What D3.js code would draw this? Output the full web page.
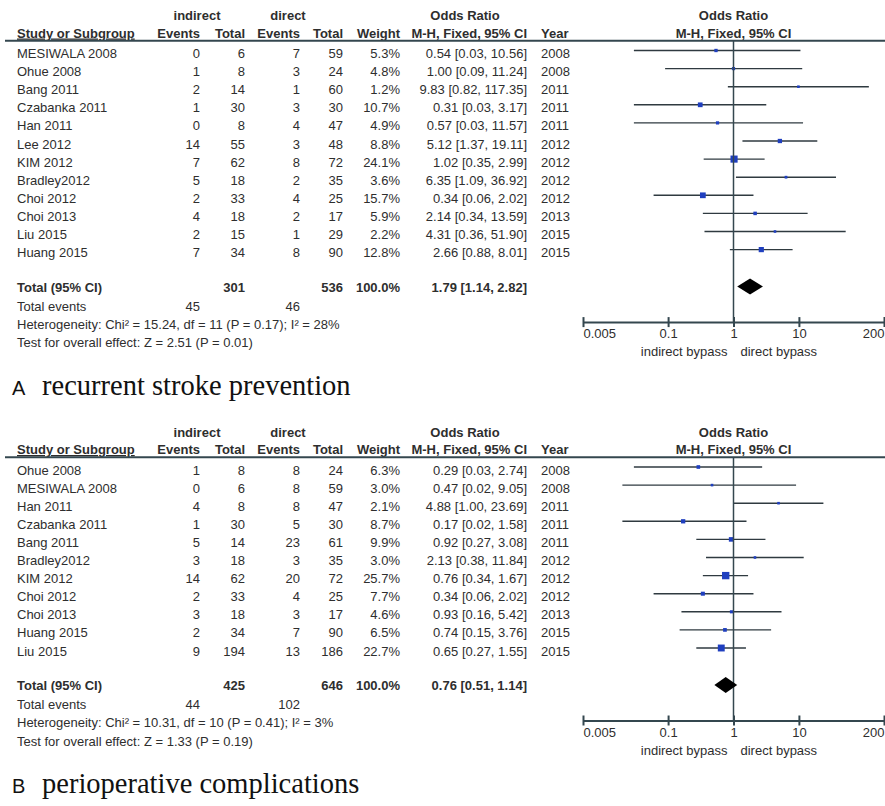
<!DOCTYPE html>
<html>
<head>
<script src="https://d3js.org/d3.v7.min.js"></script>
<style>
  body { margin: 0; background: #fff; }
  svg { display: block; background: #fff; }
  text { font-family: "Liberation Sans", Arial, sans-serif; font-size: 13px; fill: #2e2e2e; }
  .b { font-weight: bold; }
  .title { font-family: "Liberation Serif", "Times New Roman", serif; font-size: 28.5px; fill: #111; }
  .lab { font-size: 20px; fill: #111; }
</style>
</head>
<body>
<svg width="885" height="806"></svg>
<script>
// ---- panel A: recurrent stroke prevention
const aStudy = ["MESIWALA 2008", "Ohue 2008", "Bang 2011", "Czabanka 2011", "Han 2011", "Lee 2012",
  "KIM 2012", "Bradley2012", "Choi 2012", "Choi 2013", "Liu 2015", "Huang 2015"];
const aIndEvents = [0, 1, 2, 1, 0, 14, 7, 5, 2, 4, 2, 7];
const aIndTotal = [6, 8, 14, 30, 8, 55, 62, 18, 33, 18, 15, 34];
const aDirEvents = [7, 3, 1, 3, 4, 3, 8, 2, 4, 2, 1, 8];
const aDirTotal = [59, 24, 60, 30, 47, 48, 72, 35, 25, 17, 29, 90];
const aWeight = [5.3, 4.8, 1.2, 10.7, 4.9, 8.8, 24.1, 3.6, 15.7, 5.9, 2.2, 12.8];
const aOR = [0.54, 1.00, 9.83, 0.31, 0.57, 5.12, 1.02, 6.35, 0.34, 2.14, 4.31, 2.66];
const aLo = [0.03, 0.09, 0.82, 0.03, 0.03, 1.37, 0.35, 1.09, 0.06, 0.34, 0.36, 0.88];
const aHi = [10.56, 11.24, 117.35, 3.17, 11.57, 19.11, 2.99, 36.92, 2.02, 13.59, 51.90, 8.01];
const aYear = [2008, 2008, 2011, 2011, 2011, 2012, 2012, 2012, 2012, 2013, 2015, 2015];
const aTotals = { ind: 301, dir: 536, indEv: 45, dirEv: 46, or: 1.79, lo: 1.14, hi: 2.82 };
const aHet = "Heterogeneity: Chi² = 15.24, df = 11 (P = 0.17); I² = 28%";
const aTest = "Test for overall effect: Z = 2.51 (P = 0.01)";

// ---- panel B: perioperative complications
const bStudy = ["Ohue 2008", "MESIWALA 2008", "Han 2011", "Czabanka 2011", "Bang 2011", "Bradley2012",
  "KIM 2012", "Choi 2012", "Choi 2013", "Huang 2015", "Liu 2015"];
const bIndEvents = [1, 0, 4, 1, 5, 3, 14, 2, 3, 2, 9];
const bIndTotal = [8, 6, 8, 30, 14, 18, 62, 33, 18, 34, 194];
const bDirEvents = [8, 8, 8, 5, 23, 3, 20, 4, 3, 7, 13];
const bDirTotal = [24, 59, 47, 30, 61, 35, 72, 25, 17, 90, 186];
const bWeight = [6.3, 3.0, 2.1, 8.7, 9.9, 3.0, 25.7, 7.7, 4.6, 6.5, 22.7];
const bOR = [0.29, 0.47, 4.88, 0.17, 0.92, 2.13, 0.76, 0.34, 0.93, 0.74, 0.65];
const bLo = [0.03, 0.02, 1.00, 0.02, 0.27, 0.38, 0.34, 0.06, 0.16, 0.15, 0.27];
const bHi = [2.74, 9.05, 23.69, 1.58, 3.08, 11.84, 1.67, 2.02, 5.42, 3.76, 1.55];
const bYear = [2008, 2008, 2011, 2011, 2011, 2012, 2012, 2012, 2013, 2015, 2015];
const bTotals = { ind: 425, dir: 646, indEv: 44, dirEv: 102, or: 0.76, lo: 0.51, hi: 1.14 };
const bHet = "Heterogeneity: Chi² = 10.31, df = 10 (P = 0.41); I² = 3%";
const bTest = "Test for overall effect: Z = 1.33 (P = 0.19)";

const tickVals = [0.005, 0.1, 1, 10, 200];

const svg = d3.select("svg");
const x = d3.scaleLog().domain([0.005, 200]).range([583, 884]);
const f2 = d3.format(".2f");
const ciText = (o, l, h) => `${f2(o)} [${f2(l)}, ${f2(h)}]`;

// column right edges
const col = { name: 17, ie: 200, it: 245, de: 300, dt: 343, w: 400, ci: 527, yr: 541 };
const lineCol = "#34474f";

function panel(oy, p, letter, title) {
  const g = svg.append("g");
  const n = p.study.length;
  const y = d3.scaleLinear().domain([0, 1]).range([oy + 58, oy + 76.1]);
  const last = y(n - 1);

  // headers
  const hd = (tx, xx, yy, anchor) => g.append("text").attr("class", "b")
    .attr("x", xx).attr("y", yy).attr("text-anchor", anchor).text(tx);
  hd("indirect", 197, oy + 20, "middle");
  hd("direct", 288, oy + 20, "middle");
  hd("Odds Ratio", 465, oy + 20, "middle");
  hd("Odds Ratio", x(1), oy + 20, "middle");
  hd("Study or Subgroup", col.name, oy + 37.5, "start").attr("text-decoration", "underline");
  hd("Events", col.ie, oy + 37.5, "end");
  hd("Total", col.it, oy + 37.5, "end");
  hd("Events", col.de, oy + 37.5, "end");
  hd("Total", col.dt, oy + 37.5, "end");
  hd("Weight", col.w, oy + 37.5, "end");
  hd("M-H, Fixed, 95% CI", col.ci, oy + 37.5, "end");
  hd("Year", col.yr, oy + 37.5, "start");
  hd("M-H, Fixed, 95% CI", x(1), oy + 37.5, "middle");

  g.append("line").attr("x1", 5).attr("x2", 885).attr("y1", oy + 40.7).attr("y2", oy + 40.7)
    .attr("stroke", lineCol).attr("stroke-width", 2);

  // table rows
  const rows = g.selectAll("g.row").data(d3.range(n)).join("g").attr("class", "row");
  const cell = (fn, xx, anchor) => rows.append("text").attr("x", xx).attr("y", i => y(i))
    .attr("text-anchor", anchor).text(fn);
  cell(i => p.study[i], col.name, "start");
  cell(i => p.ie[i], col.ie, "end");
  cell(i => p.it[i], col.it, "end");
  cell(i => p.de[i], col.de, "end");
  cell(i => p.dt[i], col.dt, "end");
  cell(i => p.w[i].toFixed(1) + "%", col.w, "end");
  cell(i => ciText(p.or[i], p.lo[i], p.hi[i]), col.ci, "end");
  cell(i => p.yr[i], col.yr, "start");

  // vertical line at OR = 1
  const axY = last + 65;
  g.append("line").attr("x1", x(1)).attr("x2", x(1)).attr("y1", oy + 40.7).attr("y2", axY)
    .attr("stroke", lineCol).attr("stroke-width", 1.5);

  // CI lines and squares
  const side = i => Math.max(2.6, 1.45 * Math.sqrt(p.w[i]));
  rows.append("line")
    .attr("x1", i => x(p.lo[i])).attr("x2", i => x(p.hi[i]))
    .attr("y1", i => y(i) - 7.5).attr("y2", i => y(i) - 7.5)
    .attr("stroke", "#2f3a40").attr("stroke-width", 1.4);
  rows.append("rect")
    .attr("width", side).attr("height", side)
    .attr("x", i => x(p.or[i]) - side(i) / 2)
    .attr("y", i => y(i) - 7.5 - side(i) / 2)
    .attr("fill", "#1f3fbf");

  // totals
  const tY = last + 34.5;
  const t = p.tot;
  const tx = (s, xx, yy, anchor, cls) => g.append("text").attr("class", cls || null)
    .attr("x", xx).attr("y", yy).attr("text-anchor", anchor).text(s);
  tx("Total (95% CI)", col.name, tY, "start", "b");
  tx(t.ind, col.it, tY, "end", "b");
  tx(t.dir, col.dt, tY, "end", "b");
  tx("100.0%", col.w, tY, "end", "b");
  tx(ciText(t.or, t.lo, t.hi), col.ci, tY, "end", "b");
  tx("Total events", col.name, tY + 19, "start");
  tx(t.indEv, col.ie, tY + 19, "end");
  tx(t.dirEv, col.de, tY + 19, "end");
  tx(p.het, col.name, tY + 37, "start");
  tx(p.test, col.name, tY + 55.5, "start");

  // diamond
  const dy = tY - 5;
  g.append("path")
    .attr("d", `M${x(t.lo)},${dy} L${x(t.or)},${dy - 8} L${x(t.hi)},${dy} L${x(t.or)},${dy + 8} Z`)
    .attr("fill", "#000");

  // axis
  const ax = g.append("g").attr("transform", `translate(0,${axY})`)
    .call(d3.axisBottom(x).tickValues(tickVals).tickSizeOuter(0).tickSizeInner(0)
      .tickPadding(7).tickFormat(d => String(d)));
  ax.select(".domain").attr("stroke", lineCol).attr("stroke-width", 2);
  ax.selectAll(".tick line").attr("y1", -5).attr("y2", 5).attr("stroke", lineCol).attr("stroke-width", 2);
  ax.selectAll(".tick text").attr("fill", "#2e2e2e").style("font-size", "13px")
    .style("font-family", '"Liberation Sans", Arial, sans-serif')
    .attr("text-anchor", (d, i) => i === 0 ? "start" : i === tickVals.length - 1 ? "end" : "middle");
  tx("indirect bypass", x(1) - 6, axY + 34, "end");
  tx("direct bypass", x(1) + 7, axY + 34, "start");

  // panel title
  const ty = last + 137.5;
  g.append("text").attr("class", "lab").attr("x", 12).attr("y", ty).text(letter);
  g.append("text").attr("class", "title").attr("x", 42).attr("y", ty).text(title);
}

panel(0, {
  study: aStudy, ie: aIndEvents, it: aIndTotal, de: aDirEvents, dt: aDirTotal,
  w: aWeight, or: aOR, lo: aLo, hi: aHi, yr: aYear, tot: aTotals, het: aHet, test: aTest
}, "A", "recurrent stroke prevention");

panel(416.5, {
  study: bStudy, ie: bIndEvents, it: bIndTotal, de: bDirEvents, dt: bDirTotal,
  w: bWeight, or: bOR, lo: bLo, hi: bHi, yr: bYear, tot: bTotals, het: bHet, test: bTest
}, "B", "perioperative complications");
</script>
</body>
</html>
